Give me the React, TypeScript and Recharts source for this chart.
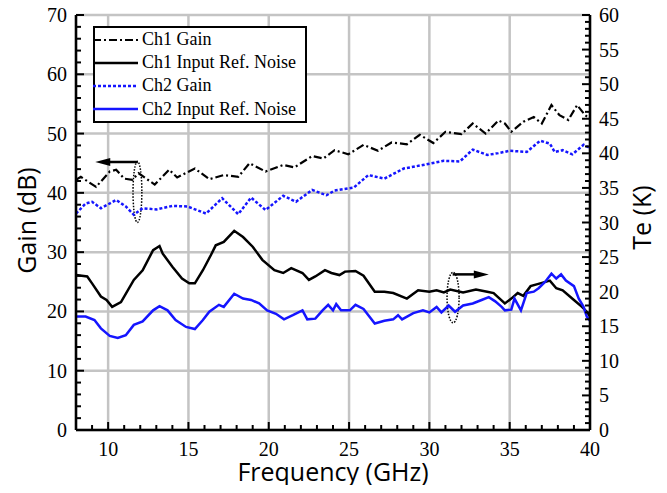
import React from 'react';
import { LineChart, Line, XAxis, YAxis, CartesianGrid, ReferenceLine, ReferenceArea, Legend, Label } from 'recharts';

// Ch1 gain (dB)
const ch1GainFreq = [8, 8.3, 9.25, 10.1, 10.5, 11.0, 11.5, 11.9, 12.9, 13.8, 14.3, 15.4, 16.3, 17.2, 18.1, 18.8, 19.8, 20.9, 21.6, 22.7, 23.4, 24.1, 24.95, 25.9, 26.8, 27.65, 28.6, 29.4, 30.25, 31.0, 32.0, 32.7, 33.5, 34.3, 34.7, 35.1, 35.85, 36.5, 37.0, 37.6, 38.1, 38.65, 39.2, 39.7, 40];
const ch1Gain = [42.2, 42.7, 41.0, 43.6, 43.9, 42.4, 42.2, 43.3, 41.4, 43.9, 42.6, 44.1, 42.3, 43.0, 42.7, 45.0, 43.6, 44.7, 44.3, 46.2, 45.8, 47.2, 46.5, 48.1, 47.1, 48.5, 48.2, 49.8, 48.4, 50.3, 49.9, 51.7, 50.0, 52.2, 51.7, 50.3, 52.0, 52.8, 51.7, 54.8, 53.1, 52.3, 54.8, 53.1, 52.5];

// Ch2 gain (dB)
const ch2GainFreq = [8, 8.6, 9.0, 9.55, 10.5, 11.1, 11.6, 12.15, 13.0, 14.0, 14.95, 16.1, 17.1, 18.1, 18.9, 19.8, 20.9, 21.7, 22.7, 23.6, 24.1, 25.3, 26.2, 27.2, 28.4, 29.6, 30.9, 31.9, 32.7, 33.6, 34.3, 35.0, 36.06, 36.9, 37.5, 37.8, 38.3, 38.9, 39.6, 40];
const ch2Gain = [36.5, 38.2, 38.5, 37.4, 38.8, 37.7, 36.3, 37.4, 37.2, 37.8, 37.7, 36.5, 39.1, 36.4, 39.2, 37.1, 39.5, 38.5, 40.5, 39.6, 40.4, 40.9, 43.0, 42.4, 44.1, 44.7, 45.4, 45.3, 47.3, 46.4, 46.7, 47.1, 46.9, 48.8, 48.3, 46.9, 47.2, 46.5, 48.1, 47.6];

// Ch1 input referred noise (K)
const ch1NoiseFreq = [8, 8.7, 9.0, 9.55, 9.9, 10.25, 10.8, 11.6, 12.15, 12.8, 13.2, 13.4, 14.0, 14.6, 15.05, 15.4, 15.9, 16.4, 16.7, 17.2, 17.85, 18.4, 19.0, 19.6, 20.35, 20.9, 21.4, 22.1, 22.5, 22.9, 23.5, 23.9, 24.4, 24.75, 25.4, 25.9, 26.6, 27.2, 27.75, 28.6, 29.3, 30.0, 30.45, 30.9, 31.3, 32.1, 32.9, 33.6, 34.0, 34.7, 35.1, 35.5, 35.85, 36.3, 36.9, 37.5, 37.9, 38.3, 39.0, 39.5, 39.8, 40];
const ch1Noise = [22.4, 22.2, 21.2, 19.3, 18.8, 17.8, 18.5, 21.7, 23.1, 26.0, 26.6, 25.5, 23.6, 21.9, 21.2, 21.2, 23.1, 25.3, 26.7, 27.2, 28.8, 27.9, 26.5, 24.6, 23.1, 22.7, 23.4, 22.7, 21.7, 22.2, 23.1, 22.7, 22.4, 22.9, 23.0, 22.3, 20.0, 20.0, 19.8, 19.0, 20.2, 20.0, 20.2, 19.9, 20.3, 19.9, 20.3, 20.0, 19.8, 18.3, 19.0, 19.8, 19.4, 20.8, 21.2, 21.6, 20.5, 20.2, 18.8, 17.8, 17.1, 16.4];

// Ch2 input referred noise (K)
const ch2NoiseFreq = [8, 8.6, 9.15, 9.55, 10.1, 10.6, 11.1, 11.6, 12.15, 12.8, 13.2, 13.7, 14.2, 14.85, 15.4, 15.9, 16.3, 16.9, 17.2, 17.85, 18.4, 18.9, 19.4, 19.9, 20.45, 20.95, 21.5, 22.1, 22.4, 22.9, 23.35, 23.7, 24.0, 24.2, 24.5, 25.05, 25.4, 25.9, 26.6, 27.2, 27.75, 28.05, 28.3, 29.0, 29.6, 30.0, 30.45, 30.75, 31.2, 31.6, 32.1, 32.7, 33.25, 33.7, 34.1, 34.5, 34.7, 35.1, 35.3, 35.7, 36.06, 36.5, 36.8, 37.2, 37.6, 37.9, 38.2, 38.5, 39.0, 39.3, 39.6, 39.8, 40];
const ch2Noise = [16.4, 16.4, 15.9, 14.7, 13.6, 13.3, 13.7, 15.2, 15.7, 17.3, 17.9, 17.3, 15.9, 14.9, 14.6, 15.9, 17.1, 18.1, 17.8, 19.7, 19.0, 18.8, 18.3, 17.3, 16.8, 16.0, 16.6, 17.3, 16.0, 16.1, 17.3, 18.1, 17.3, 18.2, 17.3, 17.3, 18.1, 17.5, 15.4, 15.8, 16.0, 16.6, 16.0, 16.9, 17.3, 17.0, 17.8, 17.0, 18.0, 17.1, 18.0, 18.3, 18.8, 19.2, 18.6, 17.8, 17.3, 17.4, 19.0, 17.3, 19.8, 20.0, 20.5, 21.4, 22.6, 21.9, 22.5, 21.6, 20.8, 19.0, 17.8, 16.4, 15.8];

// axis ticks
const xMajor = [10, 15, 20, 25, 30, 35, 40];
const xGrid = [10, 15, 20, 25, 30, 35];
const gainMajor = [0, 10, 20, 30, 40, 50, 60, 70];
const gainGrid = [10, 20, 30, 40, 50, 60];
const teMajor = [0, 5, 10, 15, 20, 25, 30, 35, 40, 45, 50, 55, 60];

const steps = (from: number, to: number, step: number) => {
  const out: number[] = [];
  for (let v = from; v <= to + 1e-9; v += step) out.push(Math.round(v * 100) / 100);
  return out;
};
const xTicks = steps(8, 40, 1);
const gainTicks = steps(0, 70, 2);
const teTicks = steps(0, 60, 1);

const toData = (f: number[], v: number[]) => f.map((x, i) => ({ f: x, v: v[i] }));
const ch1GainData = toData(ch1GainFreq, ch1Gain);
const ch2GainData = toData(ch2GainFreq, ch2Gain);
const ch1NoiseData = toData(ch1NoiseFreq, ch1Noise);
const ch2NoiseData = toData(ch2NoiseFreq, ch2Noise);

const serif = '"Liberation Serif", "Times New Roman", serif';
const sans = '"Open Sans", "Noto Sans", sans-serif';
const BLUE = '#1515ff';

const series = [
  { name: 'Ch1 Gain', color: '#000', dash: '8 3 2 3', width: 2.2 },
  { name: 'Ch1 Input Ref. Noise', color: '#000', dash: undefined, width: 2.5 },
  { name: 'Ch2 Gain', color: BLUE, dash: '3 2', width: 2.5 },
  { name: 'Ch2 Input Ref. Noise', color: BLUE, dash: undefined, width: 2.5 },
];

const num = (v: any) => Number(v);

const BottomTick = (p: any) => {
  const x = num(p.x);
  const y = num(p.y);
  const major = xMajor.includes(p.payload.value);
  return (
    <g>
      <path d={`M${x},${y}V${y - (major ? 8 : 5)}`} stroke="#000" strokeWidth={2} fill="none" />
      {major && (
        <text x={x} y={y + 26} textAnchor="middle" fontFamily={serif} fontSize={20} fill="#000">
          {p.payload.value}
        </text>
      )}
    </g>
  );
};

const TopTick = (p: any) => {
  const x = num(p.x);
  const y = num(p.y);
  const major = xMajor.includes(p.payload.value);
  return <path d={`M${x},${y}V${y + (major ? 8 : 5)}`} stroke="#000" strokeWidth={2} fill="none" />;
};

const LeftTick = (p: any) => {
  const x = num(p.x);
  const y = num(p.y);
  const major = gainMajor.includes(p.payload.value);
  return (
    <g>
      <path d={`M${x},${y}H${x + (major ? 8 : 5)}`} stroke="#000" strokeWidth={2} fill="none" />
      {major && (
        <text x={x - 9} y={y} dy="0.35em" textAnchor="end" fontFamily={serif} fontSize={20} fill="#000">
          {p.payload.value}
        </text>
      )}
    </g>
  );
};

const RightTick = (p: any) => {
  const x = num(p.x);
  const y = num(p.y);
  const major = teMajor.includes(p.payload.value);
  return (
    <g>
      <path d={`M${x},${y}H${x - (major ? 8 : 5)}`} stroke="#000" strokeWidth={2} fill="none" />
      {major && (
        <text x={x + 9} y={y} dy="0.35em" textAnchor="start" fontFamily={serif} fontSize={20} fill="#000">
          {p.payload.value}
        </text>
      )}
    </g>
  );
};

const Arrow = (p: any) => {
  const { x1, y1, x2, y2 } = p;
  const dir = x2 > x1 ? 1 : -1;
  return (
    <g>
      <line x1={x1} y1={y1} x2={x2 - dir * 10} y2={y2} stroke="#000" strokeWidth={2.5} />
      <polygon points={`${x2},${y2} ${x2 - dir * 15},${y2 - 4} ${x2 - dir * 15},${y2 + 4}`} fill="#000" />
    </g>
  );
};

const Loop = (p: any) => (
  <ellipse
    cx={p.x + p.width / 2}
    cy={p.y + p.height / 2}
    rx={p.width / 2}
    ry={p.height / 2}
    fill="none"
    stroke="#000"
    strokeWidth={1.5}
    strokeDasharray="1.5 1.5"
  />
);

const LegendBox = () => (
  <div style={{ border: '2px solid #000', background: '#fff', paddingRight: 9, fontFamily: serif, fontSize: 18 }}>
    {series.map((s) => (
      <div key={s.name} style={{ display: 'flex', alignItems: 'center', height: 23.2 }}>
        <svg width={45} height={10} style={{ marginLeft: -2 }}>
          <line x1={0} y1={5} x2={45} y2={5} stroke={s.color} strokeWidth={s.width} strokeDasharray={s.dash} />
        </svg>
        <span style={{ marginLeft: 4, whiteSpace: 'nowrap' }}>{s.name}</span>
      </div>
    ))}
  </div>
);

const frameLine = { stroke: '#000', strokeWidth: 2.5 };

export default function App() {
  return (
    <div style={{ margin: -8 }}>
      <LineChart width={667} height={493} margin={{ top: 15, right: 17, bottom: 8, left: 16 }}>
        {/* hidden axes that only carry the major grid positions */}
        <XAxis xAxisId="gx" type="number" dataKey="f" domain={[8, 40]} allowDataOverflow ticks={xGrid} interval={0} height={0} hide />
        <YAxis yAxisId="gy" type="number" domain={[0, 70]} allowDataOverflow ticks={gainGrid} interval={0} width={0} hide />
        <CartesianGrid xAxisId="gx" yAxisId="gy" stroke="#c4c4c4" strokeWidth={2.5} />

        <XAxis
          xAxisId="x"
          dataKey="f"
          type="number"
          domain={[8, 40]}
          allowDataOverflow
          ticks={xTicks}
          interval={0}
          tickSize={0}
          tickMargin={0}
          tickLine={false}
          tick={BottomTick}
          height={55}
          axisLine={frameLine}
        >
          <Label
            content={(p: any) => (
              <text
                x={p.viewBox.x + p.viewBox.width / 2}
                y={p.viewBox.y + p.viewBox.height - 4}
                textAnchor="middle"
                fontFamily={sans}
                fontSize={25}
                fill="#000"
              >
                Frequency (GHz)
              </text>
            )}
          />
        </XAxis>
        <XAxis
          xAxisId="top"
          dataKey="f"
          type="number"
          orientation="top"
          domain={[8, 40]}
          allowDataOverflow
          ticks={xTicks}
          interval={0}
          tickSize={0}
          tickMargin={0}
          tickLine={false}
          tick={TopTick}
          height={0}
          axisLine={frameLine}
        />
        <YAxis
          yAxisId="gain"
          type="number"
          domain={[0, 70]}
          allowDataOverflow
          ticks={gainTicks}
          interval={0}
          tickSize={0}
          tickMargin={0}
          tickLine={false}
          tick={LeftTick}
          width={60}
          axisLine={frameLine}
        >
          <Label
            content={(p: any) => {
              const cx = p.viewBox.x + 10;
              const cy = p.viewBox.y + p.viewBox.height / 2 - 2;
              return (
                <text
                  x={cx}
                  y={cy}
                  transform={`rotate(-90 ${cx} ${cy})`}
                  textAnchor="middle"
                  dominantBaseline="central"
                  fontFamily={sans}
                  fontSize={25}
                  fill="#000"
                >
                  Gain (dB)
                </text>
              );
            }}
          />
        </YAxis>
        <YAxis
          yAxisId="te"
          orientation="right"
          type="number"
          domain={[0, 60]}
          allowDataOverflow
          ticks={teTicks}
          interval={0}
          tickSize={0}
          tickMargin={0}
          tickLine={false}
          tick={RightTick}
          width={60}
          axisLine={frameLine}
        >
          <Label
            content={(p: any) => {
              const cx = p.viewBox.x + 51;
              const cy = p.viewBox.y + p.viewBox.height / 2 - 5;
              return (
                <text
                  x={cx}
                  y={cy}
                  transform={`rotate(-90 ${cx} ${cy})`}
                  textAnchor="middle"
                  dominantBaseline="central"
                  fontFamily={sans}
                  fontSize={25}
                  fill="#000"
                >
                  Te (K)
                </text>
              );
            }}
          />
        </YAxis>

        <Line xAxisId="x" yAxisId="gain" data={ch1GainData} dataKey="v" name={series[0].name} type="linear"
          stroke={series[0].color} strokeWidth={series[0].width} strokeDasharray={series[0].dash} dot={false} isAnimationActive={false} />
        <Line xAxisId="x" yAxisId="te" data={ch1NoiseData} dataKey="v" name={series[1].name} type="linear"
          stroke={series[1].color} strokeWidth={series[1].width} dot={false} isAnimationActive={false} />
        <Line xAxisId="x" yAxisId="gain" data={ch2GainData} dataKey="v" name={series[2].name} type="linear"
          stroke={series[2].color} strokeWidth={series[2].width} strokeDasharray={series[2].dash} dot={false} isAnimationActive={false} />
        <Line xAxisId="x" yAxisId="te" data={ch2NoiseData} dataKey="v" name={series[3].name} type="linear"
          stroke={series[3].color} strokeWidth={series[3].width} dot={false} isAnimationActive={false} />

        {/* annotations: which curves belong to which axis */}
        <ReferenceArea xAxisId="x" yAxisId="gain" x1={11.55} x2={12.1} y1={35} y2={45.3} shape={Loop} />
        <ReferenceLine xAxisId="x" yAxisId="gain" segment={[{ x: 11.85, y: 45.2 }, { x: 9.2, y: 45.2 }]} shape={Arrow} />
        <ReferenceArea xAxisId="x" yAxisId="te" x1={31.1} x2={31.85} y1={15.5} y2={22.8} shape={Loop} />
        <ReferenceLine xAxisId="x" yAxisId="te" segment={[{ x: 31.45, y: 22.5 }, { x: 33.7, y: 22.5 }]} shape={Arrow} />

        <Legend
          layout="horizontal"
          verticalAlign="middle"
          align="center"
          content={() => <LegendBox />}
          wrapperStyle={{ left: 93, top: 26, width: 'auto', height: 'auto' }}
        />
      </LineChart>
    </div>
  );
}
